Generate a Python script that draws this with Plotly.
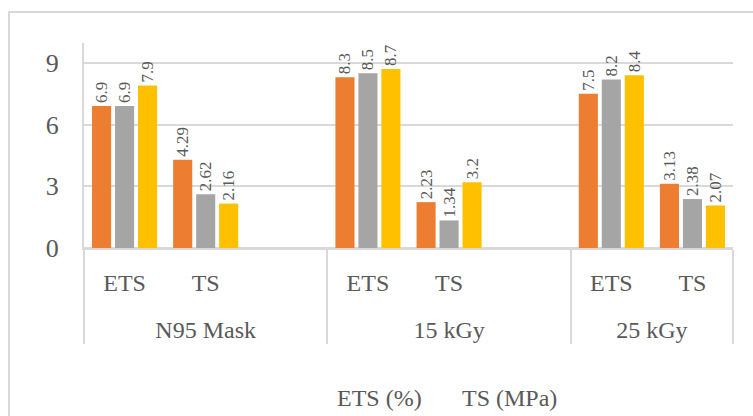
import plotly.graph_objects as go

# Sample groups and the two measured properties
groups = ["N95 Mask", "15 kGy", "25 kGy"]
metrics = ["ETS", "TS"]

# Three repeat series, ordered N95 ETS, N95 TS, 15 kGy ETS, 15 kGy TS, 25 kGy ETS, 25 kGy TS
series_a = [6.9, 4.29, 8.3, 2.23, 7.5, 3.13]
series_b = [6.9, 2.62, 8.5, 1.34, 8.2, 2.38]
series_c = [7.9, 2.16, 8.7, 3.2, 8.4, 2.07]

legend_labels = ["ETS (%)", "TS (MPa)"]
y_ticks = [0, 3, 6, 9]

colors = ["#ED7D31", "#A5A5A5", "#FFC000"]

# Build the two-level category axis; the first two groups carry an empty slot.
# Group names get a leading blank line so they sit lower under the metric row.
group_level, metric_level = [], []
slot_index = []  # index into the series arrays, or None for an empty slot
k = 0
for gi, g in enumerate(groups):
    glabel = "<br>" + g
    for m in metrics:
        group_level.append(glabel)
        metric_level.append(m)
        slot_index.append(k)
        k += 1
    if gi < len(groups) - 1:
        group_level.append(glabel)
        metric_level.append(" " * (gi + 1))
        slot_index.append(None)


def expand(values):
    return [values[i] if i is not None else None for i in slot_index]


def fmt(v):
    return "" if v is None else f"{v:g}"


font_family = "Liberation Serif"
text_grey = "#595959"
axis_grey = "#D9D9D9"

fig = go.Figure()
for vals, col in zip([series_a, series_b, series_c], colors):
    yv = expand(vals)
    fig.add_trace(go.Bar(
        x=[group_level, metric_level],
        y=yv,
        marker=dict(color=col, line=dict(width=0)),
        text=[fmt(v) for v in yv],
        textposition="outside",
        textangle=-90,
        constraintext="none",
        textfont=dict(family=font_family, size=17, color=text_grey),
        cliponaxis=False,
        showlegend=False,
    ))

fig.update_layout(
    width=753,
    height=416,
    margin=dict(l=84, r=20, t=43, b=168),
    paper_bgcolor="white",
    plot_bgcolor="white",
    barmode="group",
    bargap=0.15,
    bargroupgap=0.17,
    font=dict(family=font_family, color=text_grey),
)

fig.update_xaxes(
    type="multicategory",
    showgrid=False,
    showline=True,
    linecolor=axis_grey,
    linewidth=2,
    ticks="",
    ticklabelstandoff=12,
    showdividers=True,
    dividercolor=axis_grey,
    dividerwidth=2,
    tickfont=dict(family=font_family, size=24, color=text_grey),
)

fig.update_yaxes(
    range=[0, 9.97],
    tickvals=y_ticks,
    ticktext=[str(t) for t in y_ticks],
    showgrid=True,
    gridcolor=axis_grey,
    gridwidth=2,
    zeroline=True,
    zerolinecolor=axis_grey,
    zerolinewidth=2,
    showline=True,
    linecolor=axis_grey,
    linewidth=2,
    ticks="",
    ticklabelstandoff=18,
    tickfont=dict(family=font_family, size=26, color=text_grey),
)

# Chart-area frame
fig.add_shape(
    type="rect", xref="paper", yref="paper",
    x0=-0.1156, x1=1.06, y0=-1.2, y1=1.151,
    line=dict(color=axis_grey, width=2), fillcolor="rgba(0,0,0,0)",
    layer="below",
)

# Legend text row
for label, xpos in zip(legend_labels, [0.456, 0.656]):
    fig.add_annotation(
        text=label, xref="paper", yref="paper",
        x=xpos, y=-0.732, xanchor="center", yanchor="middle",
        showarrow=False,
        font=dict(family=font_family, size=24, color=text_grey),
    )

fig.write_html("out.html")
